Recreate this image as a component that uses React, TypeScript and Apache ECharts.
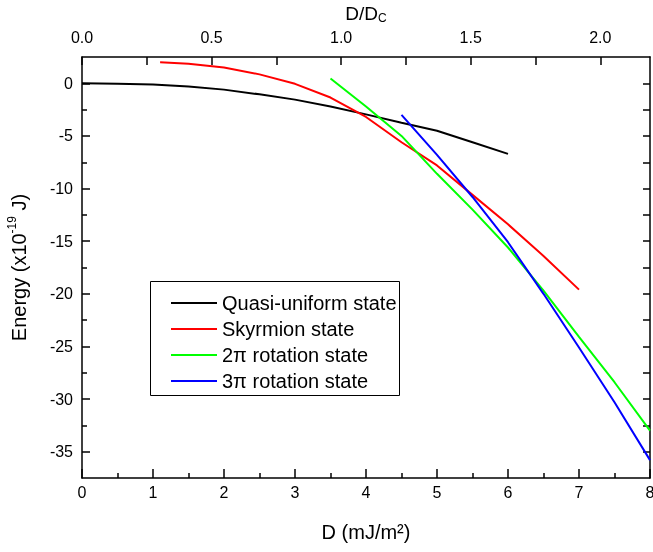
import React, { useEffect, useRef } from "react";
import * as echarts from "echarts";

const quasiD = [0, 0.5, 1, 1.5, 2, 2.5, 3, 3.5, 4, 4.5, 5, 5.5, 6];
const quasiE = [0, -0.03, -0.12, -0.3, -0.6, -1.05, -1.55, -2.2, -2.95, -3.75, -4.5, -5.6, -6.7];
const skyD = [1.1, 1.5, 2, 2.5, 3, 3.5, 4, 4.5, 5, 5.5, 6, 6.5, 7];
const skyE = [2.0, 1.85, 1.5, 0.85, -0.05, -1.35, -3.2, -5.6, -7.8, -10.6, -13.4, -16.4, -19.6];
const rot2D = [3.5, 4, 4.5, 5, 5.5, 6, 6.5, 7, 7.5, 8];
const rot2E = [0.45, -2.2, -5.0, -8.6, -12.0, -15.6, -19.7, -24.1, -28.4, -33.0];
const rot3D = [4.5, 5, 5.5, 6, 6.5, 7, 7.5, 8];
const rot3E = [-3.0, -6.8, -10.8, -15.1, -20.0, -25.1, -30.3, -35.8];

const seriesNames = ["Quasi-uniform state", "Skyrmion state", "2\u03c0 rotation state", "3\u03c0 rotation state"];
const seriesColors = ["#000000", "#ff0000", "#00ff00", "#0000ff"];

const Dc = 3.65;
const yMajor = [-35, -30, -25, -20, -15, -10, -5, 0];
const yMinor = [-32.5, -27.5, -22.5, -17.5, -12.5, -7.5, -2.5];
const yAll = [-35, -32.5, -30, -27.5, -25, -22.5, -20, -17.5, -15, -12.5, -10, -7.5, -5, -2.5, 0];
const topMajor = [0, 0.5, 1.0, 1.5, 2.0];
const topAll = [0, 0.25, 0.5, 0.75, 1.0, 1.25, 1.5, 1.75, 2.0];

const FONT = "'Liberation Sans', Arial, Helvetica, sans-serif";

function pairs(xs: number[], ys: number[]) {
  return xs.map((x, i) => [x, ys[i]]);
}

export default function App() {
  const ref = useRef<HTMLDivElement>(null);
  useEffect(() => {
    if (!ref.current) return;
    const chart = echarts.init(ref.current, undefined, { renderer: "svg" });
    const axisLine = { show: true, onZero: false, lineStyle: { color: "#000", width: 1.5 } };
    const labelStyle = { color: "#000", fontSize: 16, fontFamily: FONT };
    const datasets = [
      pairs(quasiD, quasiE),
      pairs(skyD, skyE),
      pairs(rot2D, rot2E),
      pairs(rot3D, rot3E),
    ];
    chart.setOption({
      animation: false,
      textStyle: { fontFamily: FONT },
      grid: { left: 82, right: 3, top: 57, bottom: 74, containLabel: false, outerBoundsMode: "none" },
      xAxis: [
        {
          type: "value",
          position: "bottom",
          min: 0,
          max: 8,
          interval: 1,
          axisLine,
          axisTick: { show: true, inside: true, length: 9, lineStyle: { color: "#000", width: 1.5 } },
          minorTick: { show: true, splitNumber: 2, length: 5, lineStyle: { color: "#000", width: 1.5 } },
          splitLine: { show: false },
          axisLabel: { ...labelStyle, margin: 6 },
          name: "D (mJ/m\u00b2)",
          nameLocation: "middle",
          nameGap: 44,
          nameTextStyle: { color: "#000", fontSize: 20, fontFamily: FONT },
        },
        {
          type: "value",
          position: "top",
          min: 0,
          max: 8 / Dc,
          axisLine,
          axisTick: { show: true, inside: true, length: 8, customValues: topAll, lineStyle: { color: "#000", width: 1.5 } },
          splitLine: { show: false },
          axisLabel: {
            ...labelStyle,
            margin: 12,
            customValues: topMajor,
            formatter: (v: number) => v.toFixed(1),
          },
          name: "{a|D/D}{s|C}",
          nameLocation: "middle",
          nameGap: 33,
          nameTextStyle: {
            color: "#000",
            rich: {
              a: { fontSize: 19, fontFamily: FONT, color: "#000" },
              s: { fontSize: 12, fontFamily: FONT, color: "#000", padding: [10, 0, 0, 0] },
            },
          },
        },
      ],
      yAxis: [
        {
          type: "value",
          position: "left",
          min: -37.5,
          max: 2.5,
          axisLine,
          axisTick: { show: true, inside: true, length: 8, customValues: yMajor, lineStyle: { color: "#000", width: 1.5 } },
          splitLine: { show: false },
          axisLabel: { ...labelStyle, margin: 9, customValues: yMajor },
          name: "{a|Energy (x10}{s|-19}{a| J)}",
          nameLocation: "middle",
          nameGap: 50,
          nameTextStyle: {
            color: "#000",
            rich: {
              a: { fontSize: 20, fontFamily: FONT, color: "#000" },
              s: { fontSize: 12, fontFamily: FONT, color: "#000", padding: [0, 0, 14, 0] },
            },
          },
        },
        {
          type: "value",
          position: "left",
          min: -37.5,
          max: 2.5,
          axisLine: { show: false, onZero: false },
          axisTick: { show: true, inside: true, length: 5, customValues: yMinor, lineStyle: { color: "#000", width: 1.5 } },
          splitLine: { show: false },
          axisLabel: { show: false },
        },
        {
          type: "value",
          position: "right",
          min: -37.5,
          max: 2.5,
          axisLine,
          axisTick: { show: true, inside: true, length: 7, customValues: yAll, lineStyle: { color: "#000", width: 1.5 } },
          splitLine: { show: false },
          axisLabel: { show: false },
        },
      ],
      legend: {
        orient: "vertical",
        left: 171,
        top: 293,
        padding: 0,
        itemGap: 6,
        itemWidth: 46,
        itemHeight: 2,
        icon: "rect",
        textStyle: { color: "#000", fontSize: 20, lineHeight: 20, fontFamily: FONT },
        data: seriesNames,
      },
      graphic: [
        {
          type: "rect",
          left: 148,
          top: 279,
          shape: { width: 249, height: 114 },
          style: { fill: "none", stroke: "#000", lineWidth: 1 },
          z: -1,
        },
      ],
      series: datasets.map((d, i) => ({
        name: seriesNames[i],
        type: "line",
        xAxisIndex: 0,
        yAxisIndex: 0,
        data: d,
        symbol: "none",
        smooth: false,
        lineStyle: { color: seriesColors[i], width: 2 },
        itemStyle: { color: seriesColors[i] },
      })),
    });
    return () => chart.dispose();
  }, []);
  return <div ref={ref} style={{ position: "fixed", left: 0, top: 0, width: 653, height: 552 }} />;
}
